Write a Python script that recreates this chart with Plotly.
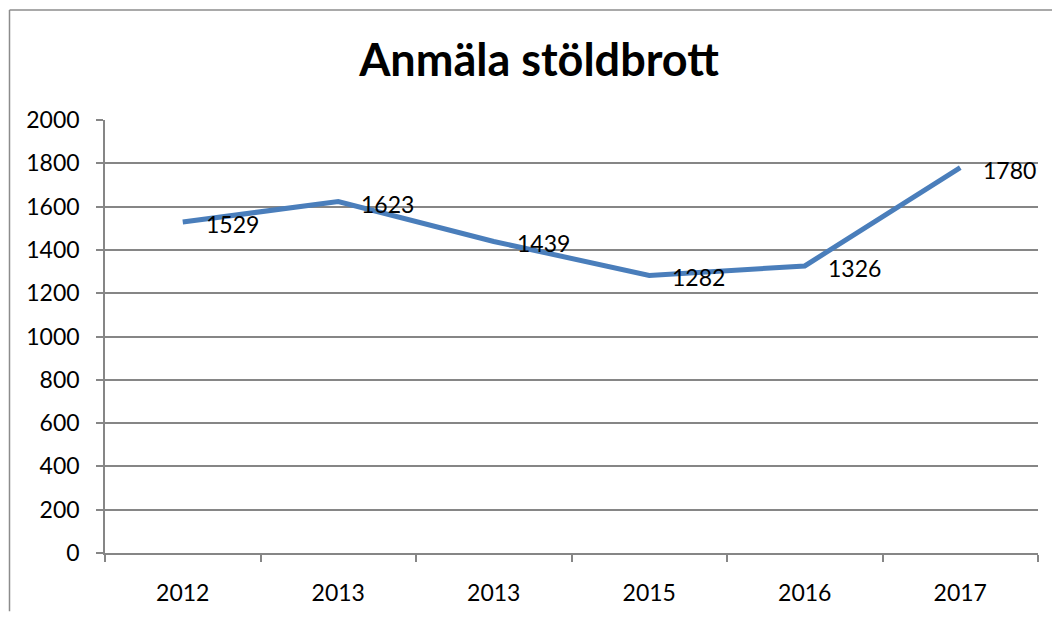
import plotly.graph_objects as go

categories = ["2012", "2013", "2013", "2015", "2016", "2017"]
values = [1529, 1623, 1439, 1282, 1326, 1780]
y_ticks = [0, 200, 400, 600, 800, 1000, 1200, 1400, 1600, 1800, 2000]
title_text = "Anmäla stöldbrott"

# page body has an 8px margin; figure is sized to fit the window exactly
W, H = 1052, 610
L, R, T, B = 97, 22, 112, 60
pw, ph = W - L - R, H - T - B

idx = list(range(len(categories)))
GRAY = "#868686"
FONT = "Lato"
FS = 23

fig = go.Figure()
fig.add_trace(go.Scatter(
    x=idx, y=values, mode="lines",
    line=dict(color="#4A7EBB", width=5),
    hoverinfo="skip", showlegend=False,
))

for i, v in zip(idx, values):
    fig.add_annotation(
        x=i, y=v, text=str(v), showarrow=False,
        xanchor="left", yanchor="middle", xshift=21, yshift=-2,
        font=dict(family=FONT, size=FS, color="black"),
    )

# outer frame (left and top edges visible), kept inside the figure
fx0 = (1.5 - L) / pw
fy1 = 1 + (T - 0.75) / ph
fig.add_shape(type="line", xref="paper", yref="paper",
              x0=fx0, x1=fx0, y0=fy1, y1=-(B - 1) / ph,
              line=dict(color="#8c8c8c", width=1.5))
fig.add_shape(type="line", xref="paper", yref="paper",
              x0=fx0, x1=1 + (R - 1) / pw, y0=fy1, y1=fy1,
              line=dict(color="#8c8c8c", width=1.5))

fig.update_layout(
    width=W, height=H,
    margin=dict(l=L, r=R, t=T, b=B, pad=0),
    paper_bgcolor="white", plot_bgcolor="white",
    title=dict(text="<b>" + title_text + "</b>", x=(531 - L) / pw, xref="paper",
               xanchor="center", y=1 - 52 / H, yanchor="middle",
               font=dict(family=FONT, size=45, color="black")),
    font=dict(family=FONT, size=FS, color="black"),
)

fig.update_xaxes(
    range=[-0.5, len(categories) - 0.5],
    tickmode="array", tickvals=idx, ticktext=categories,
    ticks="", showgrid=False, zeroline=False,
    showline=True, linecolor=GRAY, linewidth=1.5,
    ticklabelstandoff=19,
    tickfont=dict(family=FONT, size=FS, color="black"),
    minor=dict(tickmode="array",
               tickvals=[i - 0.5 for i in range(len(categories) + 1)],
               ticks="outside", ticklen=7, tickcolor=GRAY, tickwidth=1.5,
               showgrid=False),
)
fig.update_yaxes(
    range=[0, 2000],
    tickmode="array", tickvals=y_ticks,
    ticks="outside", ticklen=7, tickcolor=GRAY, tickwidth=1.5,
    showgrid=True, gridcolor=GRAY, gridwidth=1.5,
    zeroline=False,
    showline=True, linecolor=GRAY, linewidth=1.5,
    ticklabelstandoff=12,
    tickfont=dict(family=FONT, size=FS, color="black"),
)

fig.write_html("out.html")
